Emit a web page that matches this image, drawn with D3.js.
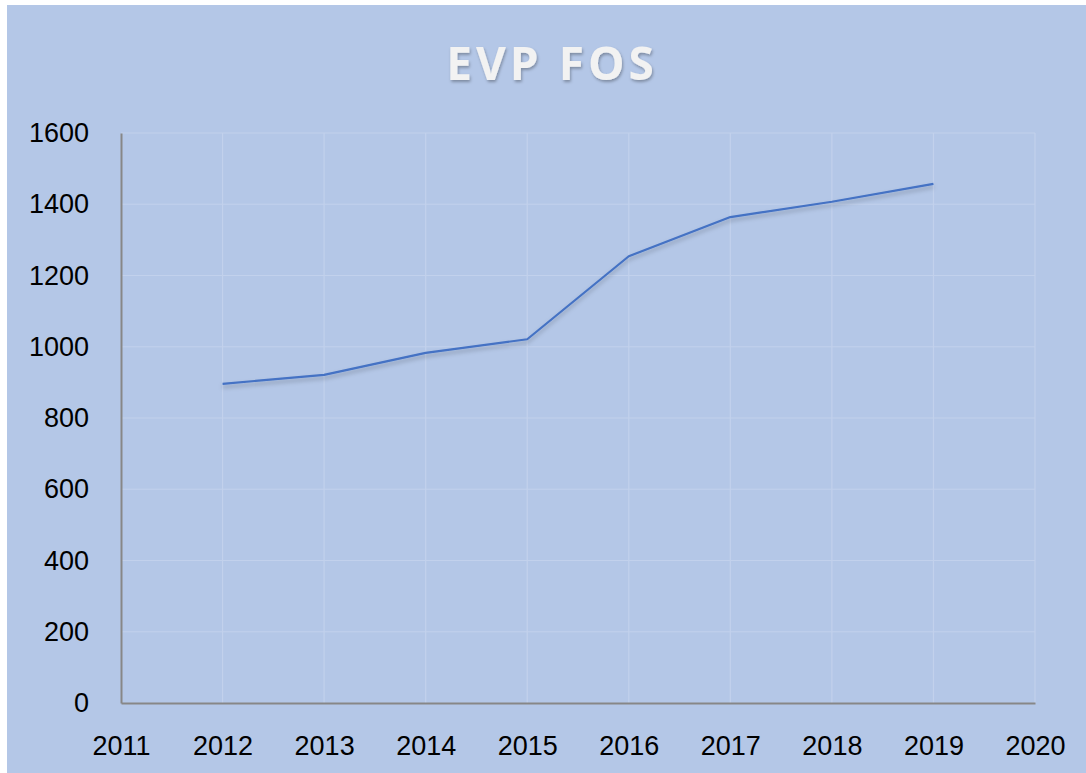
<!DOCTYPE html>
<html><head><meta charset="utf-8">
<script src="https://cdn.jsdelivr.net/npm/d3@7"></script>
<style>body{margin:0;background:#fff;}svg{display:block;}</style>
</head><body>
<script>
const title = "EVP FOS";
const years = [2012, 2013, 2014, 2015, 2016, 2017, 2018, 2019];
const values = [896, 921, 983, 1021, 1254, 1364, 1407, 1457];
const xTicks = [2011, 2012, 2013, 2014, 2015, 2016, 2017, 2018, 2019, 2020];
const yTicks = [0, 200, 400, 600, 800, 1000, 1200, 1400, 1600];

const W = 1086, H = 773;
const svg = d3.select("body").append("svg").attr("width", W).attr("height", H);
const defs = svg.append("defs");
const f1 = defs.append("filter").attr("id","shadow").attr("x","-10%").attr("y","-50%").attr("width","120%").attr("height","200%");
f1.append("feDropShadow").attr("dx",0).attr("dy",3).attr("stdDeviation",2).attr("flood-color","#000").attr("flood-opacity",0.25);
const f2 = defs.append("filter").attr("id","tshadow").attr("x","-10%").attr("y","-30%").attr("width","120%").attr("height","160%");
f2.append("feDropShadow").attr("dx",1).attr("dy",2).attr("stdDeviation",1.5).attr("flood-color","#000").attr("flood-opacity",0.3);

svg.append("rect").attr("x",7).attr("y",5).attr("width",W-7).attr("height",H-5).attr("fill","#b4c7e7");

const x = d3.scaleLinear().domain([2011, 2020]).range([121, 1035]);
const y = d3.scaleLinear().domain([0, 1600]).range([703, 133]);

// gridlines
const g = svg.append("g");
g.selectAll(".hg").data(yTicks.slice(1)).enter().append("line")
  .attr("x1", x(2011)).attr("x2", x(2020)).attr("y1", d=>y(d)).attr("y2", d=>y(d))
  .attr("stroke","#c2d1ec").attr("stroke-width",1.2);
g.selectAll(".vg").data(xTicks.slice(1)).enter().append("line")
  .attr("x1", d=>x(d)).attr("x2", d=>x(d)).attr("y1", y(0)).attr("y2", y(1600))
  .attr("stroke","#c2d1ec").attr("stroke-width",1.2);

// axes
const xAxis = svg.append("g").attr("transform",`translate(0,${y(0)})`)
  .call(d3.axisBottom(x).tickValues(xTicks).tickFormat(d3.format("d")).tickSize(0).tickPadding(33));
const yAxis = svg.append("g").attr("transform",`translate(${x(2011)},0)`)
  .call(d3.axisLeft(y).tickValues(yTicks).tickFormat(d3.format("d")).tickSize(0).tickPadding(32));
[xAxis, yAxis].forEach(a => {
  a.select(".domain").attr("stroke","#878787").attr("stroke-width",2);
  a.selectAll("text").attr("font-family","'Liberation Sans', Arial, sans-serif").attr("font-size",27).attr("fill","#000");
});
yAxis.select(".domain").raise();

// line
const line = d3.line().x((d,i)=>x(years[i])).y(d=>y(d));
svg.append("path").datum(values).attr("d", line)
  .attr("fill","none").attr("stroke","#4472c4").attr("stroke-width",2.2)
  .attr("stroke-linejoin","round").attr("filter","url(#shadow)");

// title
svg.append("text").attr("x", 552).attr("y", 80).attr("text-anchor","middle")
  .attr("font-family","'Open Sans', sans-serif").attr("font-weight","bold")
  .attr("font-size",46).attr("letter-spacing",4).attr("fill","#f2f2f2")
  .attr("filter","url(#tshadow)").text(title);
</script>
</body></html>
